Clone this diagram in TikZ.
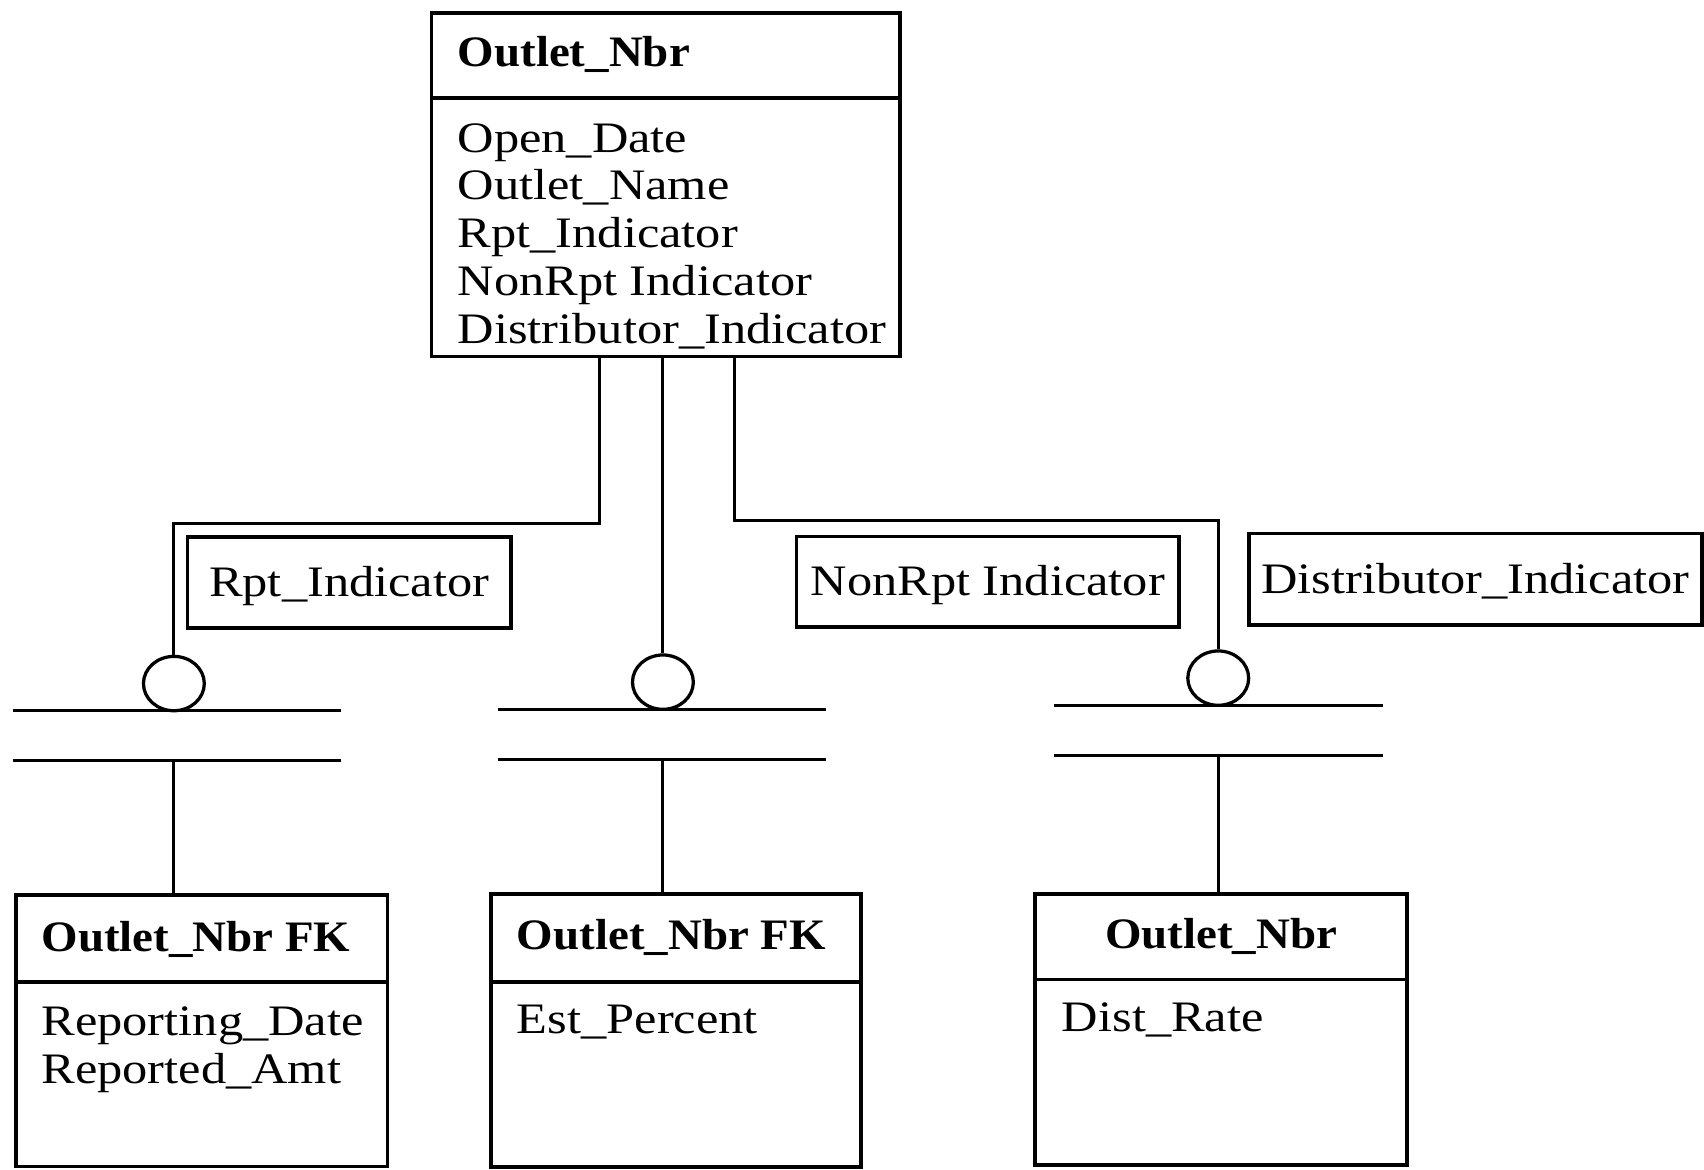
\documentclass[tikz,border=0pt]{standalone}
\usepackage{fontspec}
\setmainfont{Liberation Serif}[FakeStretch=1.16, BoldFeatures={FakeStretch=1.08}]
\usetikzlibrary{shapes.geometric}
\newcommand{\erfont}{\fontsize{40}{44}\selectfont}
\tikzset{
  frame/.style={draw, line width=3.4pt, inner sep=0pt, outer sep=0pt, anchor=north west},
  txt/.style={anchor=base west, inner sep=0pt, font=\erfont},
  hd/.style={txt, font=\erfont\bfseries},
  lab/.style={draw, line width=3.4pt, inner sep=0pt, font=\erfont, text height=26pt, text depth=0pt},
  link/.style={line width=2.8pt},
  opt/.style={ellipse, draw, line width=3pt, minimum width=56pt, minimum height=50pt, inner sep=0pt},
  barpair/.style={inner sep=0pt, outer sep=0pt, minimum width=302pt, minimum height=46pt},
  bar/.style={line width=3.2pt},
}
\begin{document}
\begin{tikzpicture}[x=1pt,y=-1pt]
\useasboundingbox (0,0) rectangle (1568,1076);
\fill[white] (0,0) rectangle (1568,1076);

% parent entity
\node[frame, minimum width=431pt, minimum height=78pt] (top-h) at (397,12) {};
\node[frame, minimum width=431pt, minimum height=238pt] (top-b) at (397,90) {};
\node[hd] (top-k) at (421,61.5) {Outlet\_Nbr};
\foreach \t [count=\i] in {Open\_Date, Outlet\_Name, Rpt\_Indicator, NonRpt Indicator, Distributor\_Indicator}
  \node[txt] (top-a\i) at (421,{140+44*(\i-1)}) {\t};

% discriminator labels
\node[lab, minimum width=297.5pt, minimum height=84pt] (lab-rpt) at (321.3,536) {Rpt\_Indicator};
\node[lab, minimum width=352pt, minimum height=83pt] (lab-non) at (909,535.3) {NonRpt Indicator};
\node[lab, minimum width=416.6pt, minimum height=84pt] (lab-dist) at (1357.7,533) {Distributor\_Indicator};

% optional-relationship circles
\node[opt] (c1) at (160,629) {};
\node[opt] (c2) at (610,627.7) {};
\node[opt] (c3) at (1121,624) {};

% category double bars
\node[barpair, anchor=north] (b1) at (162.6,654) {};
\node[barpair, anchor=north] (b2) at (608.9,652.7) {};
\node[barpair, anchor=north] (b3) at (1121.2,649) {};
\foreach \b in {b1,b2,b3} {
  \draw[bar] (\b.north west) -- (\b.north east);
  \draw[bar] (\b.south west) -- (\b.south east);
}

% child entities
\node[frame, minimum width=342pt, minimum height=80pt] (e1-h) at (14.7,823.6) {};
\node[frame, minimum width=342pt, minimum height=170pt] (e1-b) at (14.7,903.4) {};
\node[hd] (e1-k) at (38,876) {Outlet\_Nbr FK};
\node[txt] (e1-a1) at (38,952.4) {Reporting\_Date};
\node[txt] (e1-a2) at (38,996.9) {Reported\_Amt};

\node[frame, minimum width=340.7pt, minimum height=80.7pt] (e2-h) at (451.7,822.7) {};
\node[frame, minimum width=340.7pt, minimum height=170.2pt] (e2-b) at (451.7,903.4) {};
\node[hd] (e2-k) at (475.5,874) {Outlet\_Nbr FK};
\node[txt] (e2-a1) at (475.5,950.6) {Est\_Percent};

\node[frame, minimum width=342.4pt, minimum height=78.5pt] (e3-h) at (952.4,822.7) {};
\node[frame, minimum width=342.4pt, minimum height=171pt] (e3-b) at (952.4,901.2) {};
\node[hd, anchor=base] (e3-k) at (1123.6,872.7) {Outlet\_Nbr};
\node[txt] (e3-a1) at (977,949.3) {Dist\_Rate};

% connectors
\coordinate (j1) at (160,481.5);
\coordinate (j3) at (1121,479);
\draw[link] ([xshift=-61pt]top-b.south) |- (j1) -- (c1.north);
\draw[link] (c2.north |- top-b.south) -- (c2.north);
\draw[link] ([xshift=63pt]top-b.south) |- (j3) -- (c3.north);
\draw[link] (c1 |- b1.south) -- (c1 |- e1-h.north);
\draw[link] (c2 |- b2.south) -- (c2 |- e2-h.north);
\draw[link] (c3 |- b3.south) -- (c3 |- e3-h.north);
\end{tikzpicture}
\end{document}
